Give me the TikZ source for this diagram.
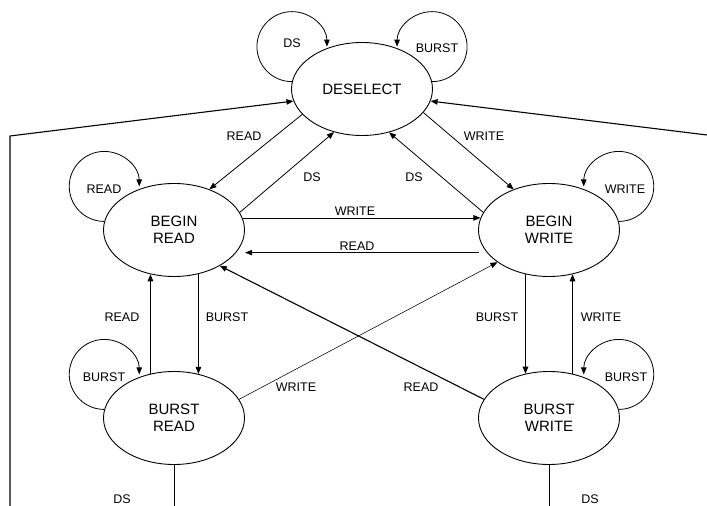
\documentclass[tikz,border=0pt]{standalone}
\usepackage{fontspec}
\setmainfont{Liberation Sans}
\usetikzlibrary{shapes.geometric,arrows.meta}
\begin{document}
\begin{tikzpicture}[x=1pt,y=1pt,
  state/.style={draw,ellipse,line width=0.9pt,minimum width=141pt,minimum height=93pt,inner sep=0pt,align=center,font=\fontsize{15}{17.5}\selectfont},
  lbl/.style={font=\fontsize{12.5}{14}\selectfont,inner sep=0pt},
  arr/.style={line width=0.8pt,-{Triangle[length=7pt,width=5.5pt]}},
  thinarr/.style={line width=0.55pt,-{Triangle[length=7pt,width=5.5pt]}},
  thickarr/.style={line width=1.1pt,-{Triangle[length=7pt,width=5.5pt]}},
  plain/.style={line width=0.9pt}]
\useasboundingbox (0,0) rectangle (707,506);
\node[state] (des) at (362,417) {DESELECT};
\node[state] (br) at (174,276) {BEGIN\\READ};
\node[state] (bw) at (549,276) {BEGIN\\WRITE};
\node[state] (brd) at (174,88) {BURST\\READ};
\node[state] (bwr) at (549,88) {BURST\\WRITE};
% self loops
\draw[arr] (des.174) arc[start angle=270,end angle=0,radius=35pt];
\draw[arr] (des.6) arc[start angle=270,end angle=540,radius=35pt];
\draw[arr] (br.173) arc[start angle=270,end angle=0,radius=35pt];
\draw[arr] (bw.7) arc[start angle=270,end angle=540,radius=35pt];
\draw[arr] (brd.173) arc[start angle=270,end angle=0,radius=35pt];
\draw[arr] (bwr.7) arc[start angle=270,end angle=540,radius=35pt];
\node[lbl] (l1) at (292,463) {DS};
\node[lbl] (l2) at (437,458) {BURST};
\node[lbl] (l3) at (104,317) {READ};
\node[lbl] (l4) at (625,317) {WRITE};
\node[lbl] (l5) at (104,129) {BURST};
\node[lbl] (l6) at (626,129) {BURST};
% deselect <-> begin
\draw[arr] (des.203) -- (br.49);
\draw[arr] (br.15) -- (des.237);
\draw[arr] (des.-21) -- (bw.131);
\draw[arr] (bw.165) -- (des.-58);
\node[lbl] (l7) at (244,370) {READ};
\node[lbl] (l8) at (312,329) {DS};
\node[lbl] (l9) at (484,370) {WRITE};
\node[lbl] (l10) at (414,329) {DS};
% begin read <-> begin write
\draw[arr] (br.10) -- (bw.170);
\draw[thinarr] ([xshift=-8pt]bw.200) -- ([xshift=9pt]br.-20);
\node[lbl] (l11) at (355,295) {WRITE};
\node[lbl] (l12) at (357,260) {READ};
% verticals
\draw[thickarr] (br.-61) -- (brd.61);
\draw[thickarr] (brd.118) -- (br.242);
\draw[thickarr] (bw.242) -- (bwr.118);
\draw[thickarr] (bwr.62) -- (bw.298);
\node[lbl] (l13) at (122,189) {READ};
\node[lbl] (l14) at (227,189) {BURST};
\node[lbl] (l15) at (497,189) {BURST};
\node[lbl] (l16) at (601,189) {WRITE};
% diagonals
\draw[thickarr] (bwr.164) -- (br.-38);
\draw[thinarr] (brd.16) -- (bw.212);
\node[lbl] (l17) at (296,119) {WRITE};
\node[lbl] (l18) at (421,119) {READ};
% DS exits
\coordinate (o1) at (174,0);
\coordinate (o2) at (549,0);
\draw[plain] (brd.south) -- (o1);
\draw[plain] (bwr.south) -- (o2);
\node[lbl] (l19) at (122,7) {DS};
\node[lbl] (l20) at (590,7) {DS};
% long returns
\coordinate (lb) at (10,0);
\coordinate (lc) at (10,370);
\coordinate (rc) at (707,371);
\draw[thickarr] (lb) -- (lc) -- (des.190);
\draw[thickarr] (rc) -- (des.-10);
\end{tikzpicture}
\end{document}
